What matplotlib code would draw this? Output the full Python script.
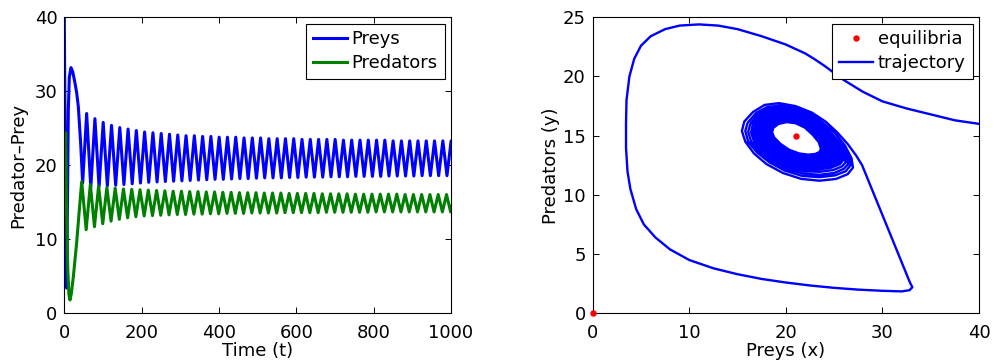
import matplotlib
matplotlib.use("Agg")
import matplotlib.pyplot as plt
from matplotlib.lines import Line2D

plt.rcParams['font.family'] = ['DejaVu Sans']
FS = 13

# ---------------- time series ----------------
prey_init_t = [0, 2.0, 4.5, 6.2, 8.0, 10.4, 13.0, 17.3, 22.0, 27.7, 32.0, 36.3, 42.3, 47.5]
prey_init_v = [40, 25.0, 10.0, 3.4, 14.0, 27.5, 31.9, 33.2, 32.6, 31.1, 29.8, 27.9, 23.0, 17.6]
pred_init_t = [0, 3.5, 6.0, 9.0, 12.0, 14.7, 18.0, 23.3, 31.9, 38.9, 45.0]
pred_init_v = [16.0, 24.4, 14.0, 6.0, 2.5, 1.8, 2.6, 4.9, 9.5, 14.0, 17.8]

# times of the prey maxima
prey_peak_t = [57.8, 79.2, 100.6, 122.1, 143.5, 164.9, 186.3, 207.7, 229.2, 250.6,
               272.0, 293.4, 314.8, 336.3, 357.7, 379.1, 400.5, 421.9, 443.4, 464.8,
               486.2, 507.6, 529.0, 550.5, 571.9, 593.3, 614.7, 636.1, 657.6, 679.0,
               700.4, 721.8, 743.2, 764.7, 786.1, 807.5, 828.9, 850.3, 871.8, 893.2,
               914.6, 936.0, 957.4, 978.9, 1000.3]
prey_trough_lag = 10.7   # prey minimum after prey maximum
pred_peak_lag = 9.5      # predator maximum after prey maximum
pred_trough_lag = -1.2   # predator minimum relative to prey maximum

prey_peaks = [27.0, 26.3, 25.8, 25.4, 25.1, 24.9, 24.7, 24.5, 24.4, 24.3,
              24.2, 24.1, 24.0, 24.0, 23.9, 23.9, 23.8, 23.8, 23.8, 23.7,
              23.7, 23.7, 23.6, 23.6, 23.6, 23.6, 23.5, 23.5, 23.5, 23.5,
              23.5, 23.4, 23.4, 23.4, 23.4, 23.4, 23.4, 23.3, 23.3, 23.3,
              23.3, 23.3, 23.3, 23.3, 23.3]
prey_troughs = [17.0, 17.1, 17.2, 17.3, 17.4, 17.5, 17.6, 17.7, 17.75, 17.8,
                17.85, 17.9, 17.95, 18.0, 18.05, 18.1, 18.1, 18.15, 18.2, 18.2,
                18.25, 18.3, 18.3, 18.3, 18.35, 18.35, 18.4, 18.4, 18.4, 18.45,
                18.45, 18.45, 18.5, 18.5, 18.5, 18.5, 18.55, 18.55, 18.55, 18.55,
                18.6, 18.6, 18.6, 18.6, 18.6]
pred_peaks = [17.4, 17.2, 17.0, 16.9, 16.8, 16.75, 16.7, 16.65, 16.6, 16.55,
              16.5, 16.5, 16.45, 16.45, 16.4, 16.4, 16.35, 16.35, 16.3, 16.3,
              16.3, 16.25, 16.25, 16.25, 16.2, 16.2, 16.2, 16.2, 16.15, 16.15,
              16.15, 16.15, 16.1, 16.1, 16.1, 16.1, 16.1, 16.1, 16.05, 16.05,
              16.05, 16.05, 16.05, 16.05, 16.05]
pred_troughs = [11.3, 11.7, 12.1, 12.45, 12.7, 12.9, 13.05, 13.15, 13.2, 13.25,
                13.3, 13.35, 13.35, 13.4, 13.4, 13.45, 13.45, 13.5, 13.5, 13.5,
                13.55, 13.55, 13.55, 13.55, 13.6, 13.6, 13.6, 13.6, 13.6, 13.65,
                13.65, 13.65, 13.65, 13.65, 13.65, 13.7, 13.7, 13.7, 13.7, 13.7,
                13.7, 13.7, 13.7, 13.7, 13.7]

# ---------------- phase plane ----------------
equil_x = [0, 21]
equil_y = [0, 15]

transient_x = [40, 37.5, 35, 32.5, 30, 28, 26, 24, 23, 22, 20, 17.5, 15, 13, 11, 9, 7.5,
               6.0, 5.0, 4.3, 3.8, 3.5, 3.45, 3.45, 3.6, 3.9, 4.5, 5.3, 6.5, 8.0, 10.0,
               12.5, 15.0, 17.5, 20.0, 22.5, 25.0, 27.5, 30.0, 32.0, 32.8, 33.1, 32.85,
               30.4, 28.4, 27.9, 27.3]
transient_y = [16.0, 16.3, 16.8, 17.3, 17.9, 18.7, 19.7, 20.9, 21.45, 21.95, 22.7, 23.4, 24.0,
               24.3, 24.4, 24.3, 24.0, 23.4, 22.6, 21.5, 20.0, 18.0, 16.0, 14.0, 12.0,
               10.5, 8.8, 7.5, 6.4, 5.4, 4.5, 3.8, 3.3, 2.9, 2.6, 2.35, 2.15, 2.0, 1.9,
               1.85, 1.95, 2.2, 2.6, 7.5, 11.5, 12.5, 13.3]

loop1_x = [26.4, 25.3, 24.1, 22.7, 21.0, 19.3, 17.8, 16.6, 15.7, 15.45, 15.8, 16.7, 18.0,
           19.7, 21.6, 23.5, 25.2, 26.4, 26.95, 26.8]
loop1_y = [14.3, 15.3, 16.2, 16.95, 17.5, 17.75, 17.6, 17.0, 16.2, 15.4, 14.5, 13.5, 12.6,
           11.85, 11.35, 11.2, 11.35, 11.75, 12.3, 13.1]
loop2_x = [26.1, 25.1, 23.9, 22.6, 21.0, 19.4, 18.0, 16.9, 16.05, 15.8, 16.1, 17.0, 18.3,
           19.9, 21.7, 23.5, 25.1, 26.2, 26.7, 26.55]
loop2_y = [14.2, 15.2, 16.05, 16.8, 17.3, 17.55, 17.4, 16.9, 16.1, 15.4, 14.5, 13.6, 12.75,
           12.05, 11.6, 11.5, 11.65, 12.0, 12.5, 13.2]
loop3_x = [25.9, 24.9, 23.8, 22.5, 21.0, 19.5, 18.2, 17.1, 16.35, 16.1, 16.4, 17.3, 18.5,
           20.1, 21.8, 23.5, 25.0, 26.0, 26.45, 26.3]
loop3_y = [14.1, 15.05, 15.9, 16.65, 17.15, 17.4, 17.25, 16.8, 16.05, 15.35, 14.5, 13.6, 12.85,
           12.2, 11.8, 11.7, 11.85, 12.2, 12.6, 13.2]
loop4_x = [25.7, 24.7, 23.6, 22.4, 21.0, 19.6, 18.35, 17.3, 16.6, 16.4, 16.7, 17.5, 18.7,
           20.2, 21.9, 23.5, 24.9, 25.8, 26.2, 26.05]
loop4_y = [14.0, 14.95, 15.8, 16.55, 17.05, 17.3, 17.15, 16.7, 16.0, 15.3, 14.5, 13.65, 12.95,
           12.35, 12.0, 11.95, 12.1, 12.4, 12.75, 13.2]
# outer edge of the dense band of later loops
band_x = [25.5, 24.5, 23.5, 22.3, 21.0, 19.7, 18.5, 17.5, 16.85, 16.65, 16.95, 17.7, 18.9,
          20.3, 21.9, 23.4, 24.7, 25.6, 25.95, 25.8, 25.5]
band_y = [13.9, 14.85, 15.7, 16.45, 16.95, 17.2, 17.05, 16.6, 15.95, 15.3, 14.5, 13.7, 13.05,
          12.5, 12.2, 12.15, 12.3, 12.6, 12.95, 13.3, 13.9]
# region the trajectory never enters (around the equilibrium)
hole_x = [23.5, 23.3, 22.7, 21.9, 21.0, 20.1, 19.3, 18.8, 18.7, 18.9, 19.5, 20.4, 21.4,
          22.3, 23.0, 23.4]
hole_y = [13.9, 14.4, 15.0, 15.6, 15.95, 16.05, 15.9, 15.6, 15.3, 14.9, 14.4, 13.9, 13.6,
          13.5, 13.55, 13.7]

# ---------------- build series ----------------
prey_t = list(prey_init_t)
prey_v = list(prey_init_v)
for tp, pk, tr in zip(prey_peak_t, prey_peaks, prey_troughs):
    prey_t += [tp, tp + prey_trough_lag]
    prey_v += [pk, tr]
pred_t = list(pred_init_t)
pred_v = list(pred_init_v)
for tp, pk, tr in zip(prey_peak_t, pred_peaks, pred_troughs):
    pred_t += [tp + pred_trough_lag, tp + pred_peak_lag]
    pred_v += [tr, pk]

traj_x = transient_x + loop1_x + loop2_x + loop3_x + loop4_x + band_x
traj_y = transient_y + loop1_y + loop2_y + loop3_y + loop4_y + band_y

BLUE = (0, 0, 1)
GREEN = (0, 0.5, 0)
RED = (1, 0, 0)

fig = plt.figure(figsize=(9.95, 3.64), dpi=100)
ax1 = fig.add_axes([0.06462, 0.13929, 0.38865, 0.81319])
ax2 = fig.add_axes([0.59568, 0.13929, 0.38824, 0.81319])

ax1.plot(prey_t, prey_v, color=BLUE, lw=2.2, solid_joinstyle='round', label='Preys')
ax1.plot(pred_t, pred_v, color=GREEN, lw=2.2, solid_joinstyle='round', label='Predators')
ax1.set_xlim(0, 1000)
ax1.set_ylim(0, 40)
ax1.set_xticks([0, 200, 400, 600, 800, 1000])
ax1.set_yticks([0, 10, 20, 30, 40])
ax1.set_xlabel('Time (t)', fontsize=FS, labelpad=0)
ax1.set_ylabel('Predator–Prey', fontsize=FS, labelpad=5)

leg_kw = dict(loc='upper right', fontsize=FS, frameon=True, fancybox=False,
              edgecolor='black', framealpha=1, borderaxespad=0.35, handlelength=1.9,
              handletextpad=0.25, labelspacing=0.33, borderpad=0.38)
ax1.legend(**leg_kw)

ax2.fill(band_x, band_y, color=BLUE, lw=0)
ax2.fill(hole_x, hole_y, color='white', lw=0)
ax2.plot(traj_x, traj_y, color=BLUE, lw=1.7, solid_joinstyle='round')
ax2.plot(equil_x, equil_y, 'o', color=RED, ms=4.6, mec='none', clip_on=False, zorder=5)
ax2.set_xlim(0, 40)
ax2.set_ylim(0, 25)
ax2.set_xticks([0, 10, 20, 30, 40])
ax2.set_yticks([0, 5, 10, 15, 20, 25])
ax2.set_xlabel('Preys (x)', fontsize=FS, labelpad=0)
ax2.set_ylabel('Predators (y)', fontsize=FS, labelpad=2)
handles = [Line2D([], [], ls='none', marker='o', color=RED, ms=4.6, mec='none'),
           Line2D([], [], color=BLUE, lw=1.7)]
ax2.legend(handles, ['equilibria', 'trajectory'], **leg_kw)

for ax in (ax1, ax2):
    ax.tick_params(direction='in', top=True, right=True, length=4, width=0.7,
                   labelsize=FS)
    ax.tick_params(axis='x', pad=8)
    ax.tick_params(axis='y', pad=5)
    for s in ax.spines.values():
        s.set_linewidth(0.8)
    ax.legend_.get_frame().set_linewidth(0.8)

fig.savefig('out.png', dpi=100)
